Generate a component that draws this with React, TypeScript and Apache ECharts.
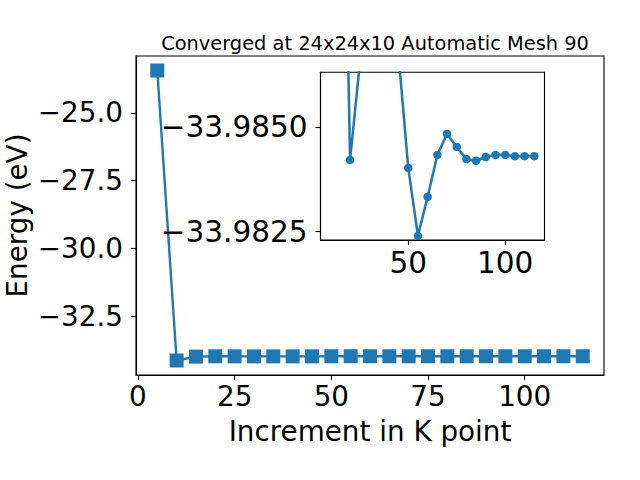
import React, { useEffect, useRef } from "react";
import * as echarts from "echarts";

const kPoints = [5, 10, 15, 20, 25, 30, 35, 40, 45, 50, 55, 60, 65, 70, 75, 80, 85, 90, 95, 100, 105, 110, 115];
const energies = [
  -23.44, -34.14, -33.9962, -33.98421, -33.9865, -33.988, -33.9885, -33.9878, -33.9867,
  -33.98402, -33.9824, -33.98333, -33.98433, -33.98483, -33.98452, -33.98423, -33.98419,
  -33.98428, -33.98433, -33.98433, -33.9843, -33.9843, -33.9843,
];
const mainXTicks = [0, 25, 50, 75, 100];
const mainYTicks = [-32.5, -30.0, -27.5, -25.0];
const insetXTicks = [50, 100];
const insetYTicks = [-33.985, -33.9825];
const insetYRange = [-33.9863, -33.9823];
const titleText = "Converged at 24x24x10 Automatic Mesh 90";
const xLabel = "Increment in K point";
const yLabel = "Energy (eV)";

const FONT = "DejaVu Sans";
const BLUE = "#1f77b4";

const fmt = (v: number, d: number) => (v < 0 ? "\u2212" : "") + Math.abs(v).toFixed(d);
const padRange = (arr: number[]) => {
  const mn = Math.min(...arr);
  const mx = Math.max(...arr);
  const m = (mx - mn) * 0.05;
  return [mn - m, mx + m];
};

export default function App() {
  const ref = useRef<HTMLDivElement>(null);
  useEffect(() => {
    if (!ref.current) return;
    const chart = echarts.init(ref.current, null, { renderer: "svg" });
    const mainX = padRange(kPoints);
    const mainY = padRange(energies);
    const insetX = padRange(kPoints.slice(1));
    const mainData = kPoints.map((k, i) => [k, energies[i]]);
    const insetData = kPoints.slice(1).map((k, i) => [k, energies[i + 1]]);
    const tickFont = { fontFamily: FONT, fontSize: 27.8, color: "#000" };
    const insetFont = { fontFamily: FONT, fontSize: 29.5, color: "#000" };
    const axisCommon = {
      axisLine: { show: true, onZero: false, lineStyle: { color: "#000", width: 1.1 } },
      splitLine: { show: false },
    };
    chart.setOption({
      animation: false,
      backgroundColor: "#fff",
      title: {
        text: titleText,
        left: 370,
        top: 29,
        textAlign: "center",
        textStyle: { fontFamily: FONT, fontSize: 19.4, fontWeight: "normal", color: "#000" },
      },
      grid: [
        { left: 136, top: 56, width: 468, height: 319, show: true, borderColor: "#000", borderWidth: 1.1, backgroundColor: "transparent", containLabel: false, outerBoundsMode: "none" },
        { left: 320.5, top: 72.3, width: 224, height: 167.7, show: true, borderColor: "#000", borderWidth: 1.1, backgroundColor: "#fff", containLabel: false, outerBoundsMode: "none" },
      ],
      xAxis: [
        {
          type: "value", gridIndex: 0, min: mainX[0], max: mainX[1],
          ...axisCommon,
          axisTick: { show: true, inside: false, length: 5, lineStyle: { color: "#000", width: 1.1 }, customValues: mainXTicks },
          axisLabel: { ...tickFont, margin: 7, customValues: mainXTicks, formatter: (v: number) => fmt(v, 0) },
          name: xLabel, nameLocation: "middle", nameGap: 42, nameMoveOverlap: false,
          nameTextStyle: { fontFamily: FONT, fontSize: 27.8, color: "#000" },
        },
        {
          type: "value", gridIndex: 1, min: insetX[0], max: insetX[1], z: 5,
          ...axisCommon,
          axisTick: { show: true, inside: false, length: 5, lineStyle: { color: "#000", width: 1.1 }, customValues: insetXTicks },
          axisLabel: { ...insetFont, margin: 8, customValues: insetXTicks, formatter: (v: number) => fmt(v, 0) },
        },
      ],
      yAxis: [
        {
          type: "value", gridIndex: 0, min: mainY[0], max: mainY[1],
          ...axisCommon,
          axisTick: { show: true, inside: false, length: 5, lineStyle: { color: "#000", width: 1.1 }, customValues: mainYTicks },
          axisLabel: { ...tickFont, margin: 13, customValues: mainYTicks, formatter: (v: number) => fmt(v, 1) },
          name: yLabel, nameLocation: "middle", nameRotate: 90, nameGap: 105, nameMoveOverlap: false,
          nameTextStyle: { fontFamily: FONT, fontSize: 27.8, color: "#000" },
        },
        {
          type: "value", gridIndex: 1, min: insetYRange[0], max: insetYRange[1], inverse: true, z: 5,
          ...axisCommon,
          axisTick: { show: true, inside: false, length: 5, lineStyle: { color: "#000", width: 1.1 }, customValues: insetYTicks },
          axisLabel: { ...insetFont, margin: 13, customValues: insetYTicks, formatter: (v: number) => fmt(v, 4) },
        },
      ],
      series: [
        {
          type: "line", xAxisIndex: 0, yAxisIndex: 0, data: mainData,
          symbol: "rect", symbolSize: 14, color: BLUE,
          lineStyle: { color: BLUE, width: 2.4 }, itemStyle: { color: BLUE },
          z: 2,
        },
        {
          type: "line", xAxisIndex: 1, yAxisIndex: 1, data: insetData,
          symbol: "circle", symbolSize: 8.5, color: BLUE, clip: true,
          lineStyle: { color: BLUE, width: 2.5 }, itemStyle: { color: BLUE },
          z: 3,
        },
      ],
    });
    return () => chart.dispose();
  }, []);
  return <div ref={ref} style={{ position: "fixed", left: 0, top: 0, width: 640, height: 480 }} />;
}
